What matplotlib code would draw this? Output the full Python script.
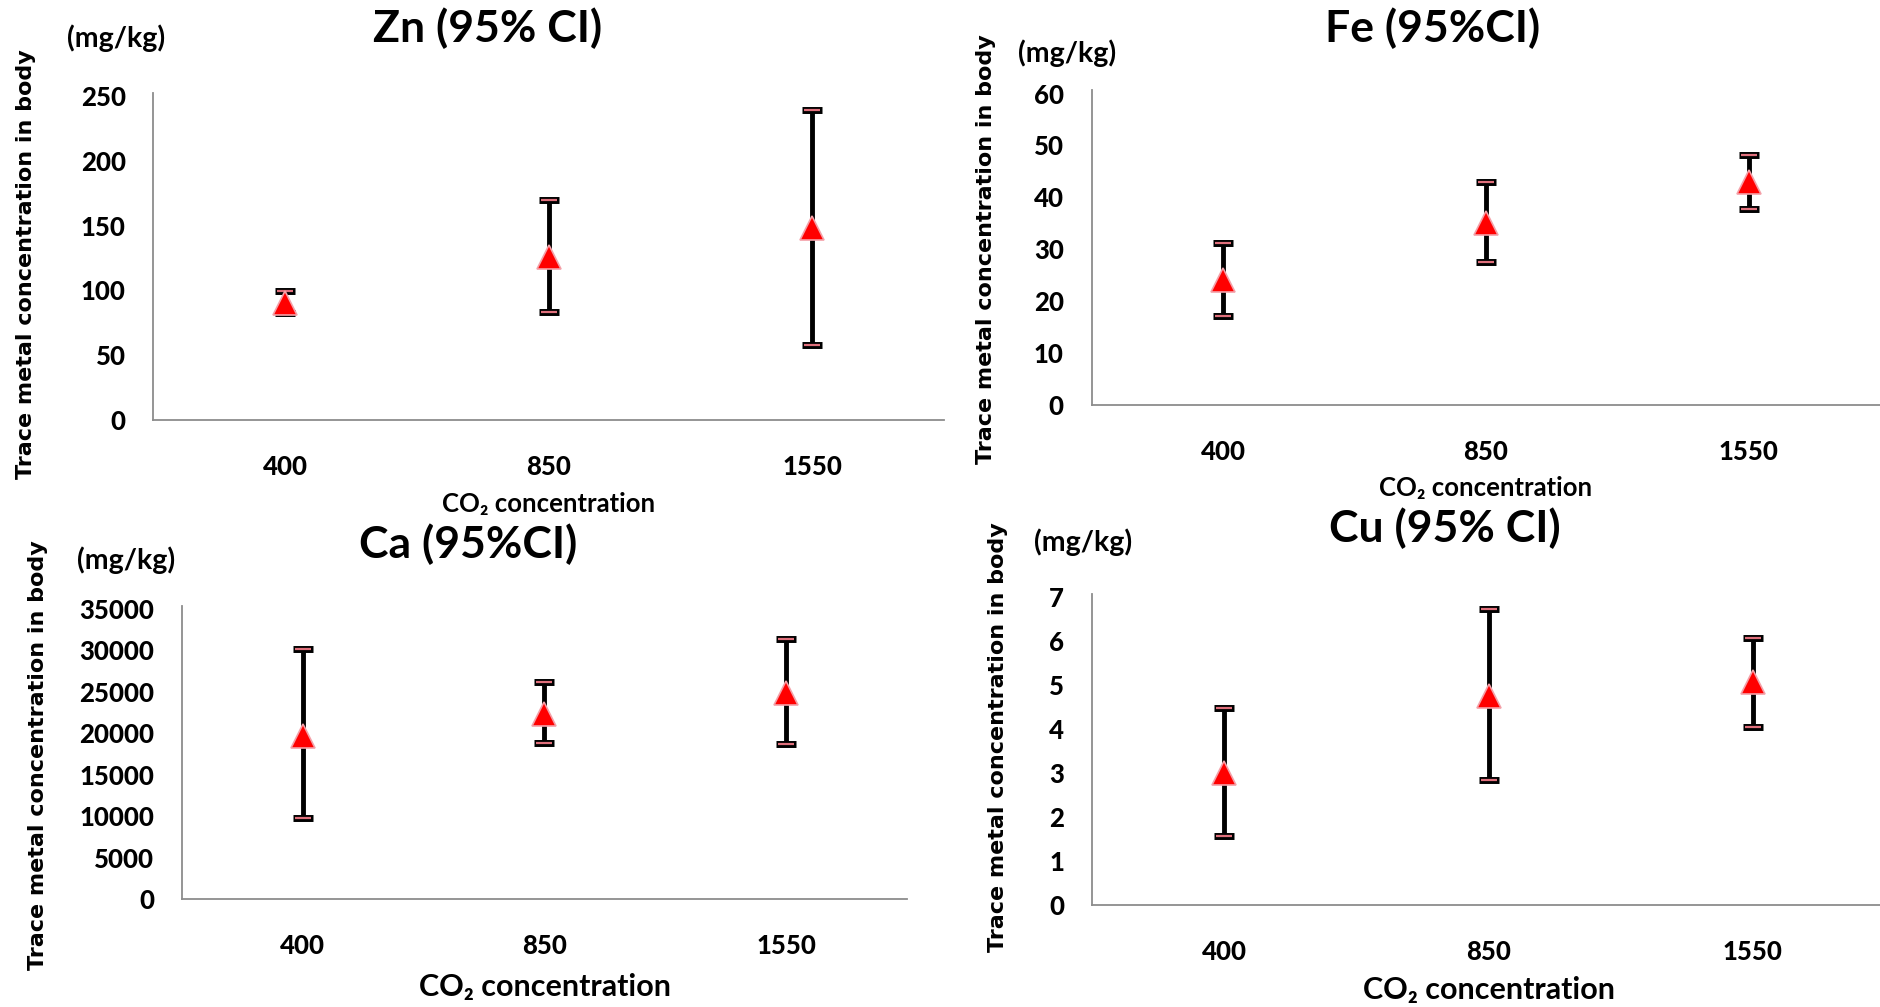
import matplotlib
matplotlib.use("Agg")
import matplotlib.pyplot as plt
import numpy as np

# CO2 treatment levels (category axis)
co2_levels = ["400", "850", "1550"]

# mean body concentration and 95% CI bounds, mg/kg
zn_mean = [90, 126, 148]
zn_low = [82.6, 83.7, 57.9]
zn_high = [99.4, 169.7, 239.4]

fe_mean = [24.1, 35.0, 42.9]
fe_low = [17.2, 27.6, 37.8]
fe_high = [31.3, 42.9, 48.2]

ca_mean = [19700, 22300, 24900]
ca_low = [9780, 18790, 18710]
ca_high = [30130, 26150, 31380]

cu_mean = [3.0, 4.75, 5.06]
cu_low = [1.57, 2.83, 4.04]
cu_high = [4.48, 6.73, 6.07]

W, H = 1880, 1007
fig = plt.figure(figsize=(W / 100, H / 100), dpi=100)
fig.patch.set_facecolor("white")

FONT = ["Lato", "DejaVu Sans"]
tick_font = dict(fontfamily=FONT, fontweight="black", fontsize=18.5)


def px(x, y):
    return x / W, 1 - y / H


def panel(rect, mean, low, high, ymax, yticks, title, title_xy, unit_xy,
          ylab_xy, xlab_xy, xlab_size):
    ax = fig.add_axes(rect)
    x = np.arange(len(co2_levels))
    mean = np.array(mean)
    err = [mean - np.array(low), np.array(high) - mean]
    ax.errorbar(x, mean, yerr=err, fmt="none", ecolor="black",
                elinewidth=3.5, capsize=7, capthick=5, zorder=2)
    # pinkish stripe inside each cap
    ax.plot(x, low, ls="none", marker="_", ms=11, mew=1.6, color="#e0707c", zorder=3)
    ax.plot(x, high, ls="none", marker="_", ms=11, mew=1.6, color="#e0707c", zorder=3)
    ax.plot(x, mean, ls="none", marker="^", ms=17, color="#ff0000",
            mec="#f4a0a8", mew=1.2, zorder=4)

    ax.set_xlim(-0.5, 2.5)
    ax.set_ylim(0, ymax)
    ax.set_xticks(x)
    ax.set_xticklabels(co2_levels, **tick_font)
    ax.set_yticks(yticks)
    ax.set_yticklabels([str(t) for t in yticks], **tick_font)
    ax.tick_params(axis="both", length=0)
    ax.tick_params(axis="x", pad=25)
    ax.tick_params(axis="y", pad=20)
    for s in ["top", "right"]:
        ax.spines[s].set_visible(False)
    for s in ["left", "bottom"]:
        ax.spines[s].set_color("#8c8c8c")
        ax.spines[s].set_linewidth(1.3)
    ax.spines["left"].set_bounds(0, ymax * 1.01)

    fig.text(*px(*title_xy), title, ha="center", va="center", family=FONT,
             fontweight="bold", fontsize=32)
    fig.text(*px(*unit_xy), "(mg/kg)", ha="center", va="center", family=FONT,
             fontweight="bold", fontsize=20.5)
    fig.text(*px(*ylab_xy), "Trace metal concentration in body", rotation=90,
             ha="center", va="center", family="DejaVu Sans", fontweight="bold",
             fontsize=16)
    fig.text(*px(*xlab_xy), "CO₂ concentration", ha="center", va="center",
             family=FONT, fontweight="bold", fontsize=xlab_size)
    return ax


panel([0.0816, 0.5829, 0.4205, 0.3217], zn_mean, zn_low, zn_high, 250,
      [0, 50, 100, 150, 200, 250], "Zn (95% CI)", (488, 28), (116, 38),
      (26, 264), (549, 504), 18.5)
panel([0.5806, 0.5978, 0.4194, 0.3093], fe_mean, fe_low, fe_high, 60,
      [0, 10, 20, 30, 40, 50, 60], "Fe (95%CI)", (1433, 28), (1067, 53),
      (986, 249), (1486, 488), 18.5)
panel([0.0968, 0.1072, 0.3856, 0.2880], ca_mean, ca_low, ca_high, 35000,
      [0, 5000, 10000, 15000, 20000, 25000, 30000, 35000], "Ca (95%CI)",
      (468, 544), (126, 560), (38, 755), (545, 987), 22)
panel([0.5809, 0.1013, 0.4218, 0.3059], cu_mean, cu_low, cu_high, 7,
      [0, 1, 2, 3, 4, 5, 6, 7], "Cu (95% CI)", (1445, 528), (1083, 542),
      (998, 737), (1489, 990), 22)

fig.savefig("out.png", dpi=100, facecolor="white")
